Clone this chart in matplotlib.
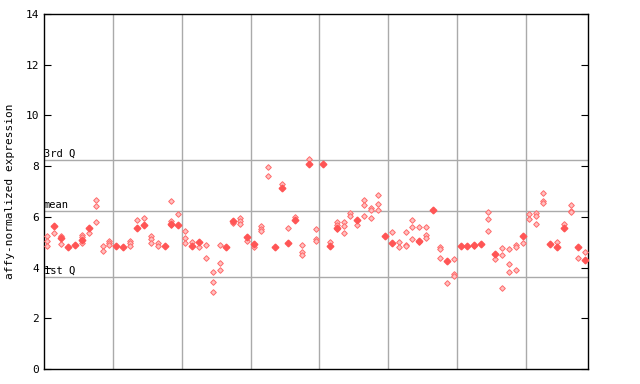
import matplotlib
matplotlib.use("Agg")
from matplotlib import pyplot as plt

# one value per sample for the solid marker (None = no solid marker)
main = [None, 5.65, 5.15, 4.82, 4.88, 5.09, 5.57, None, None, None,
        4.87, 4.82, None, 5.57, 5.68, None, None, 4.85, 5.73, 5.68,
        None, 4.85, 5.0, None, None, None, 4.82, 5.85, None, 5.2,
        4.94, None, None, 4.8, 7.15, 4.95, 5.86, None, 8.1, None,
        8.07, 4.85, 5.57, None, None, 5.89, None, None, None, 5.24,
        4.97, None, None, None, 5.06, None, 6.27, None, 4.27, None,
        4.85, 4.85, 4.9, 4.93, None, 4.55, None, None, None, 5.24,
        None, None, None, 4.93, 4.82, 5.57, None, 4.82, 4.3]

# other replicate values per sample (hatched markers)
extra = [[5.24, 5.06, 4.86], [5.36], [5.26, 4.92], [], [], [5.3, 5.2, 4.98], [5.38], [6.65, 6.41, 5.78], [4.85, 4.67], [5.05, 4.97, 4.9],
         [], [], [5.05, 4.95, 4.87], [5.87], [5.95], [5.24, 5.14, 4.97], [4.95, 4.87], [], [6.62, 5.85, 5.68], [6.1],
         [5.43, 5.17, 4.98], [5.0], [4.82], [4.88, 4.38], [3.81, 3.42, 3.05], [4.88, 4.17, 3.9], [], [5.74], [5.95, 5.84, 5.71], [5.06],
         [4.82], [5.62, 5.52, 5.43], [7.95, 7.6], [], [7.3], [5.57], [6.0], [4.88, 4.6, 4.5], [8.3], [5.52, 5.14, 5.05],
         [], [5.0], [5.78, 5.68, 5.51], [5.78, 5.65, 5.35], [6.14, 6.02], [5.68], [6.65, 6.45, 6.02], [6.36, 6.26, 5.96], [6.85, 6.49, 6.26], [],
         [5.42], [5.0, 4.82], [5.42, 4.9, 4.85], [5.87, 5.6, 5.14], [5.6, 5.0], [5.6, 5.27, 5.17], [], [4.82, 4.72, 4.38], [3.38], [4.32, 3.73, 3.65],
         [], [], [4.85], [], [6.18, 5.9, 5.43], [4.32], [4.76, 4.48, 3.18], [4.73, 4.14, 3.81], [4.88, 4.8, 3.9], [4.95],
         [6.1, 5.9], [6.15, 6.04, 5.7], [6.94, 6.64, 6.55], [], [5.0], [5.7], [6.45, 6.25, 6.18], [4.36], [4.6]]

q1 = 3.62
mean = 6.22
q3 = 8.23
group_edges = [9.5, 19.5, 29.5, 39.5, 49.5, 59.5, 69.5]
yticks = [0, 2, 4, 6, 8, 10, 12, 14]

plt.rcParams['font.family'] = ['DejaVu Sans Mono']

fig = plt.figure(figsize=(6.4, 3.84), dpi=100)
ax = fig.add_axes([44/640, 1-369/384, (588-44)/640, (369-14)/384])

n = len(main)
ax.set_xlim(-0.5, n - 0.5)
ax.set_ylim(0, 14)

for gx in group_edges:
    ax.axvline(gx, color='#aaaaaa', lw=1, zorder=1)
for qv in [q1, mean, q3]:
    ax.axhline(qv, color='#aaaaaa', lw=1, zorder=1)

ax.text(0.0, q3 + 0.06, '3rd Q', transform=ax.get_yaxis_transform(), fontsize=7.5, va='bottom', ha='left')
ax.text(0.0, mean + 0.06, 'mean', transform=ax.get_yaxis_transform(), fontsize=7.5, va='bottom', ha='left')
ax.text(0.0, q1 + 0.06, '1st Q', transform=ax.get_yaxis_transform(), fontsize=7.5, va='bottom', ha='left')

ex_x = []
ex_y = []
for i, vals in enumerate(extra):
    for v in vals:
        ex_x.append(i)
        ex_y.append(v)
ax.plot(ex_x, ex_y, 'D', ms=2.9, mfc='#ffc0c0', mec='#ff6a6a', mew=0.7, ls='none', zorder=3)

mx = [i for i, v in enumerate(main) if v is not None]
my = [v for v in main if v is not None]
ax.plot(mx, my, 'D', ms=3.4, color='#ff5555', ls='none', zorder=4)

ax.set_xticks([])
ax.set_yticks(yticks)
ax.tick_params(axis='y', direction='in', length=5, labelsize=8, right=True)
ax.set_ylabel('affy-normalized expression', fontsize=8, labelpad=8)
for s in ax.spines.values():
    s.set_linewidth(1)

fig.savefig('out.png', dpi=100)
